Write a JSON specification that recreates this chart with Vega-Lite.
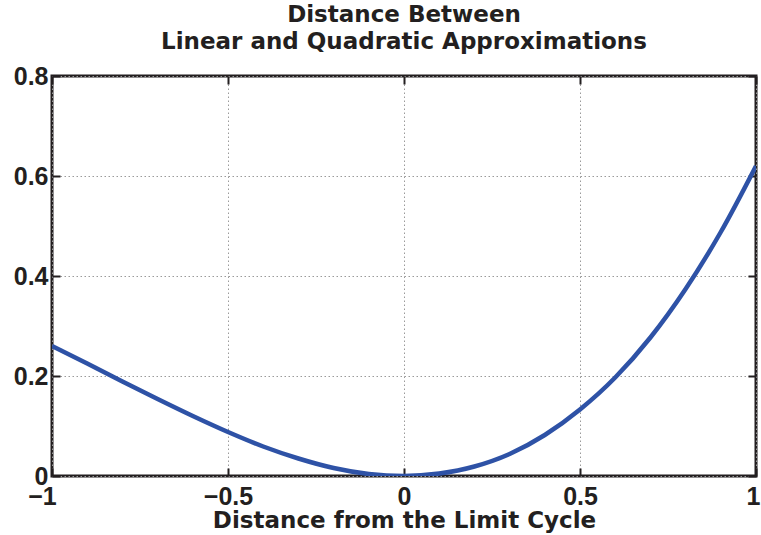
{
  "$schema": "https://vega.github.io/schema/vega-lite/v6.json",
  "width": 704,
  "height": 400,
  "autosize": "none",
  "padding": {"left": 52, "top": 76, "right": 5, "bottom": 59},
  "background": "white",
  "config": {
    "font": "Liberation Sans",
    "view": {"stroke": "#231f20", "strokeWidth": 3},
    "axis": {
      "labelFont": "Liberation Sans",
      "labelFontSize": 25,
      "labelFontWeight": "bold",
      "labelColor": "#231f20",
      "titleFont": "DejaVu Sans",
      "titleFontSize": 23,
      "titleFontWeight": "bold",
      "titleColor": "#231f20",
      "domain": false,
      "tickColor": "#231f20",
      "tickWidth": 2,
      "labelOverlap": false,
      "labelFlush": false,
      "labelBound": false
    }
  },
  "title": {
    "text": ["Distance Between", "Linear and Quadratic Approximations"],
    "font": "DejaVu Sans",
    "fontSize": 23,
    "fontWeight": "bold",
    "color": "#231f20",
    "anchor": "middle",
    "lineHeight": 27,
    "offset": 10
  },
  "data": {
    "values": [
      {"d": -1.0, "gap": 0.26},
      {"d": -0.9, "gap": 0.225},
      {"d": -0.8, "gap": 0.189},
      {"d": -0.7, "gap": 0.154},
      {"d": -0.6, "gap": 0.12},
      {"d": -0.5, "gap": 0.088},
      {"d": -0.4, "gap": 0.059},
      {"d": -0.3, "gap": 0.035},
      {"d": -0.2, "gap": 0.016},
      {"d": -0.1, "gap": 0.004},
      {"d": 0.0, "gap": 0.0},
      {"d": 0.1, "gap": 0.005},
      {"d": 0.2, "gap": 0.019},
      {"d": 0.3, "gap": 0.044},
      {"d": 0.4, "gap": 0.082},
      {"d": 0.5, "gap": 0.133},
      {"d": 0.6, "gap": 0.197},
      {"d": 0.7, "gap": 0.277},
      {"d": 0.8, "gap": 0.374},
      {"d": 0.9, "gap": 0.488},
      {"d": 1.0, "gap": 0.62}
    ]
  },
  "layer": [
    {
      "mark": {"type": "line", "color": "#2e52a6", "strokeWidth": 4.5, "interpolate": "monotone", "clip": true},
      "encoding": {
        "x": {
          "field": "d", "type": "quantitative",
          "scale": {"domain": [-1, 1], "nice": false},
          "axis": {
            "orient": "bottom",
            "values": [-1, -0.5, 0, 0.5, 1],
            "format": "~g",
            "labelOffset": {"condition": [
              {"test": "datum.value == -1", "value": -10},
              {"test": "datum.value == 1", "value": -3}
            ], "value": 0},
            "title": "Distance from the Limit Cycle",
            "titlePadding": 0,
            "tickSize": -8,
            "labelPadding": 16,
            "grid": true,
            "gridColor": "#9a9a9a",
            "gridDash": [1.5, 2.5],
            "gridWidth": 1
          }
        },
        "y": {
          "field": "gap", "type": "quantitative",
          "scale": {"domain": [0, 0.8], "nice": false},
          "axis": {
            "orient": "left",
            "values": [0, 0.2, 0.4, 0.6, 0.8],
            "labelExpr": "datum.value == 0 ? '0' : format(datum.value, '.1f')",
            "title": null,
            "tickSize": -8,
            "labelPadding": 12,
            "grid": true,
            "gridColor": "#9a9a9a",
            "gridDash": [1.5, 2.5],
            "gridWidth": 1
          }
        }
      }
    },
    {
      "mark": {"type": "line", "opacity": 0},
      "encoding": {
        "x": {
          "field": "d", "type": "quantitative",
          "scale": {"domain": [-1, 1], "nice": false},
          "axis": {"orient": "top", "values": [-1, -0.5, 0, 0.5, 1], "labels": false, "title": null, "tickSize": -8, "grid": false}
        },
        "y": {
          "field": "gap", "type": "quantitative",
          "scale": {"domain": [0, 0.8], "nice": false},
          "axis": {"orient": "right", "values": [0, 0.2, 0.4, 0.6, 0.8], "labels": false, "title": null, "tickSize": -8, "grid": false}
        }
      }
    }
  ],
  "resolve": {"axis": {"x": "independent", "y": "independent"}}
}
